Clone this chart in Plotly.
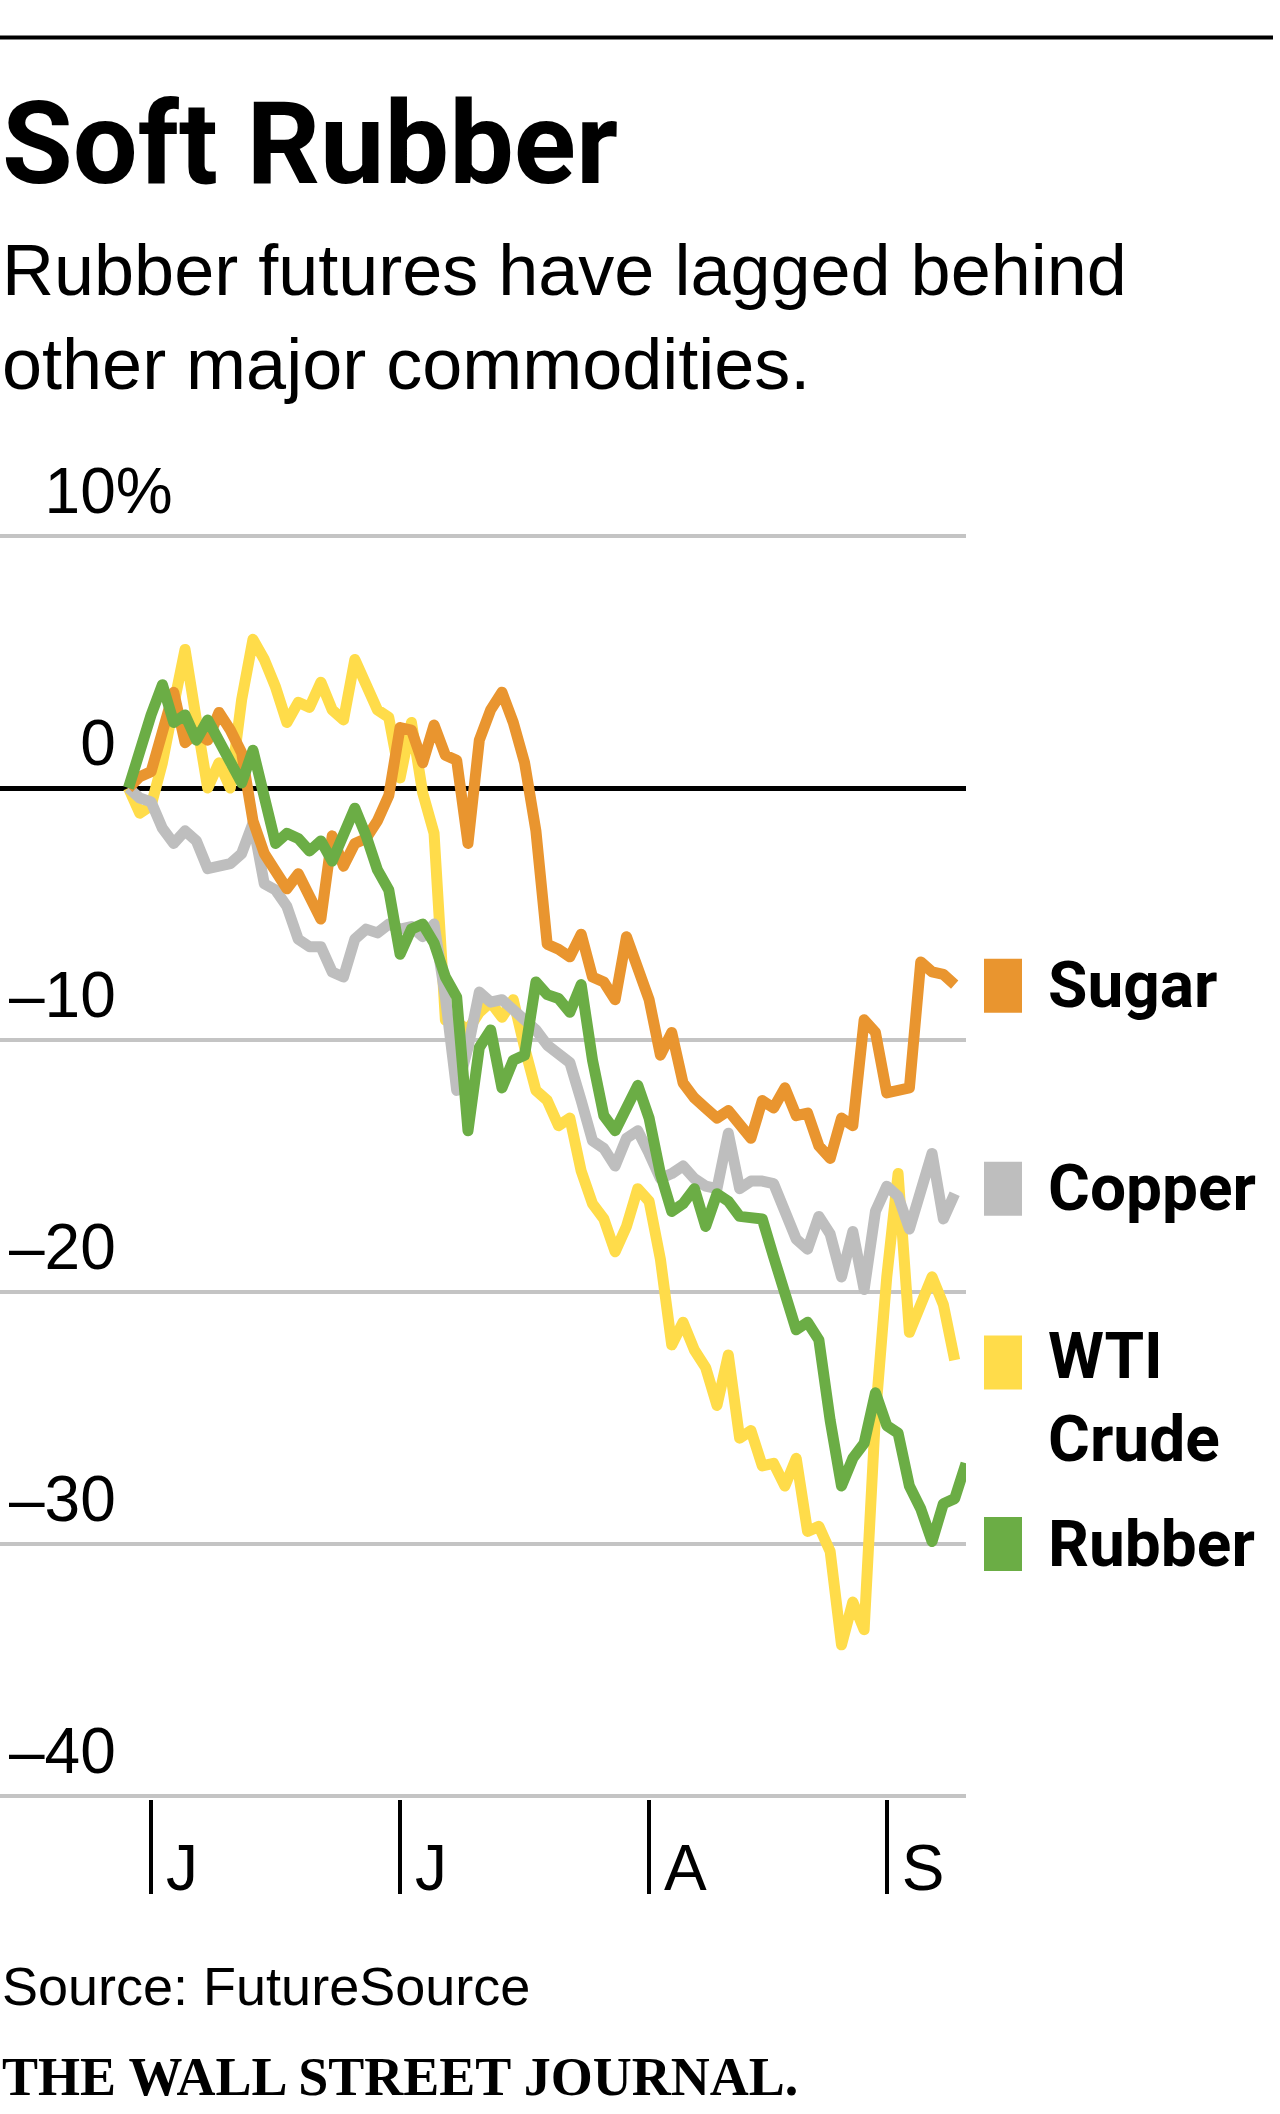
import pandas as pd
import plotly.graph_objects as go

# trading days, 28 May - 11 Sep 2015 (US holidays skipped)
dates = pd.bdate_range("2015-05-28", "2015-09-11", freq="C",
                       holidays=["2015-07-03", "2015-09-07"])
DATES = [d.strftime("%Y-%m-%d") for d in dates]

# % change since start
SUGAR = [0.0, 0.45, 0.65, 2.3, 3.8, 1.8, 2.2, 1.9, 3.0, 2.3,
         1.4, -1.3, -2.6, -3.3, -4.0, -3.4, -4.2, -5.2, -1.9, -3.1,
         -2.2, -2.0, -1.3, -0.3, 2.4, 2.3, 1.0, 2.5, 1.3, 1.1,
         -2.2, 1.9, 3.1, 3.8, 2.6, 1.0, -1.7, -6.2, -6.4, -6.7,
         -5.8, -7.5, -7.7, -8.4, -5.9, -7.3, -8.4, -10.6, -9.7, -11.7,
         -12.3, -12.7, -13.1, -12.8, -13.3, -13.9, -12.4, -12.7, -11.9, -13.0,
         -12.9, -14.2, -14.7, -13.1, -13.4, -9.2, -9.7, -12.1, -12.0, -11.9,
         -6.9, -7.3, -7.4, -7.8]
COPPER = [0.0, -0.4, -0.55, -1.6, -2.2, -1.7, -2.1, -3.2, -3.1, -3.0,
          -2.6, -1.4, -3.8, -4.05, -4.7, -6.0, -6.3, -6.3, -7.3, -7.5,
          -6.0, -5.6, -5.75, -5.4, -5.6, -5.5, -5.9, -5.4, -8.3, -12.0,
          -10.3, -8.1, -8.5, -8.4, -8.8, -9.2, -9.6, -10.2, -10.6, -10.9,
          -12.4, -14.0, -14.3, -15.0, -13.9, -13.6, -14.5, -15.5, -15.3, -15.0,
          -15.5, -15.8, -15.9, -13.7, -15.9, -15.6, -15.6, -15.7, -16.8, -17.9,
          -18.3, -17.0, -17.7, -19.4, -17.6, -19.9, -16.8, -15.8, -16.2, -17.5,
          -16.0, -14.5, -17.1, -16.1]
WTI = [0.0, -1.0, -0.7, 1.0, 3.3, 5.5, 2.7, 0.0, 1.0, 0.0,
       3.5, 5.9, 5.1, 4.0, 2.6, 3.4, 3.2, 4.2, 3.1, 2.7,
       5.1, 4.0, 3.1, 2.8, 0.4, 2.6, -0.2, -1.8, -9.2, -9.3,
       -9.6, -8.9, -8.5, -9.1, -8.4, -10.3, -12.0, -12.4, -13.4, -13.1,
       -15.2, -16.5, -17.1, -18.4, -17.4, -15.9, -16.4, -18.7, -22.1, -21.2,
       -22.3, -23.0, -24.5, -22.5, -25.8, -25.5, -26.9, -26.8, -27.7, -26.6,
       -29.5, -29.3, -30.3, -34.0, -32.3, -33.4, -24.9, -19.4, -15.3, -21.6,
       -20.5, -19.4, -20.5, -22.7]
RUBBER = [0.0, 1.6, 2.9, 4.1, 2.6, 2.9, 1.9, 2.7, 1.8, 0.9,
          0.2, 1.5, -0.4, -2.2, -1.8, -2.0, -2.5, -2.1, -2.9, -1.9,
          -0.8, -1.9, -3.25, -4.05, -6.6, -5.6, -5.4, -6.15, -7.5, -8.3,
          -13.6, -10.3, -9.6, -11.9, -10.8, -10.6, -7.7, -8.2, -8.35, -8.9,
          -7.8, -10.8, -13.0, -13.6, -12.7, -11.8, -13.1, -15.3, -16.8, -16.5,
          -15.9, -17.4, -16.1, -16.4, -17.0, -17.0, -17.1, -18.6, -20.1, -21.5,
          -21.2, -21.9, -25.1, -27.7, -26.6, -26.0, -24.0, -25.3, -25.6, -27.7,
          -28.6, -29.9, -28.4, -28.2, -26.8]

NAMES = ["WTI Crude", "Copper", "Sugar", "Rubber"]
SERIES = [WTI, COPPER, SUGAR, RUBBER]
COLORS = ["#FFDC4A", "#BEBEBE", "#E9952F", "#6BAD45"]
LABELS = ["<b>WTI</b><br><b>Crude</b>", "<b>Copper</b>", "<b>Sugar</b>", "<b>Rubber</b>"]
LABEL_Y = [-24.2, -15.9, -7.85, -30.0]
SWATCH_Y = [-22.8, -15.9, -7.85, -30.0]

Y_TICKS = [10, 0, -10, -20, -30, -40]
HIDE = "<span style='color:rgba(0,0,0,0)'>%s</span>"
Y_TEXT = [HIDE % "–" + "10%", HIDE % "–1" + "0", "–10", "–20", "–30", "–40"]
X_TICKS = ["2015-06-01", "2015-07-01", "2015-08-03", "2015-09-01"]
X_TEXT = ["J", "J", "A", "S"]

# page geometry (px)
W, H = 1280, 2114
PLOT_L, PLOT_R, PLOT_T, PLOT_B = 0, 966, 533, 1799
PW, PH = PLOT_R - PLOT_L, PLOT_B - PLOT_T
ZERO_PX, UNIT = 788, 25.2   # y pixel of 0 %, pixels per 1 %


def px_x(p):
    return (p - PLOT_L) / PW


def px_y(p):
    return (PLOT_B - p) / PH


SANS = "Liberation Sans"
BOLD = "Roboto"

fig = go.Figure()
for name, vals, col in zip(NAMES, SERIES, COLORS):
    fig.add_trace(go.Scatter(x=DATES[:len(vals)], y=vals, mode="lines", name=name,
                             line=dict(color=col, width=11), hoverinfo="skip"))

# end labels with colour swatches
for lab, ly, sy, col in zip(LABELS, LABEL_Y, SWATCH_Y, COLORS):
    fig.add_shape(type="rect", xref="paper", yref="y", ysizemode="pixel",
                  yanchor=sy, y0=-27, y1=27, x0=px_x(984), x1=px_x(1022),
                  fillcolor=col, line_width=0)
    fig.add_annotation(text=lab, xref="paper", yref="y", x=px_x(1046), y=ly,
                       xanchor="left", yanchor="middle", showarrow=False, align="left",
                       font=dict(family=BOLD, size=64, color="black"))

# top rule
fig.add_shape(type="line", xref="paper", yref="paper", x0=0, x1=px_x(1273),
              y0=px_y(37.5), y1=px_y(37.5), line=dict(color="black", width=4))

fig.add_annotation(text="<b>Soft Rubber</b>", xref="paper", yref="paper",
                   x=0, y=px_y(143), xanchor="left", yanchor="middle",
                   showarrow=False, font=dict(family=BOLD, size=115, color="black"))
fig.add_annotation(text="Rubber futures have lagged behind<br>other major commodities.",
                   xref="paper", yref="paper", x=0, y=px_y(317), xanchor="left",
                   yanchor="middle", showarrow=False, align="left",
                   font=dict(family=SANS, size=72, color="black"))
fig.add_annotation(text="Source: FutureSource", xref="paper", yref="paper",
                   x=0, y=px_y(1986), xanchor="left", yanchor="middle",
                   showarrow=False, font=dict(family=SANS, size=54, color="black"))
fig.add_annotation(text="<b>THE WALL STREET JOURNAL.</b>", xref="paper", yref="paper",
                   x=0, y=px_y(2077), xanchor="left", yanchor="middle",
                   showarrow=False, font=dict(family="Liberation Serif", size=54, color="black"))

fig.update_layout(
    width=W, height=H,
    margin=dict(l=PLOT_L, r=W - PLOT_R, t=PLOT_T, b=H - PLOT_B, pad=0),
    paper_bgcolor="white", plot_bgcolor="white",
    showlegend=False,
    font=dict(family=SANS, color="black"),
)
fig.update_xaxes(type="category", categoryorder="array", categoryarray=DATES,
                 range=[-11.35, 74.0], showgrid=False, zeroline=False, showline=False,
                 tickmode="array", tickvals=X_TICKS, ticktext=X_TEXT,
                 ticks="outside", ticklen=94, tickwidth=4, tickcolor="black",
                 ticklabelposition="outside right", ticklabelshift=13,
                 ticklabelstandoff=13, tickfont=dict(family=SANS, size=64, color="black"))
fig.update_yaxes(range=[(ZERO_PX - PLOT_B) / UNIT, (ZERO_PX - PLOT_T) / UNIT],
                 tickmode="array", tickvals=Y_TICKS, ticktext=Y_TEXT,
                 showgrid=True, gridcolor="#C4C4C4", gridwidth=4,
                 zeroline=True, zerolinecolor="black", zerolinewidth=5,
                 showline=False, ticks="", ticklabelposition="inside",
                 ticklabeloverflow="allow", ticklabelshift=-45, ticklabelstandoff=6,
                 tickfont=dict(family=SANS, size=64, color="black"))

# page without body margin, rounded line joins
JS = ("document.body.style.margin='0';"
      "document.querySelectorAll('.js-line').forEach(function(p){"
      "p.style.strokeLinejoin='round';});")
fig.write_html("out.html", post_script=JS, config={"displayModeBar": False})
